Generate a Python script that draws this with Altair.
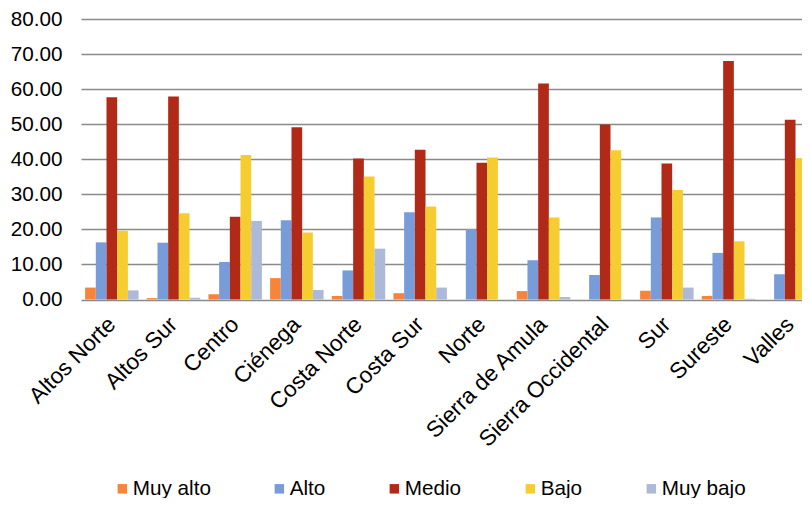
import altair as alt
import pandas as pd

regions = ["Altos Norte", "Altos Sur", "Centro", "Ciénega", "Costa Norte", "Costa Sur",
           "Norte", "Sierra de Amula", "Sierra Occidental", "Sur", "Sureste", "Valles"]
series = ["Muy alto", "Alto", "Medio", "Bajo", "Muy bajo"]
colors = ["#F8843A", "#789CD9", "#B12A17", "#F6CD30", "#ADB9D9"]

muy_alto = [3.4, 0.4, 1.5, 6.1, 1.0, 1.8, 0.0, 2.4, 0.0, 2.5, 1.0, 0.0]
alto     = [16.3, 16.2, 10.7, 22.6, 8.3, 24.9, 20.1, 11.2, 7.0, 23.4, 13.3, 7.2]
medio    = [57.7, 57.9, 23.6, 49.1, 40.2, 42.7, 39.0, 61.6, 49.9, 38.8, 68.0, 51.3]
bajo     = [19.6, 24.6, 41.2, 19.1, 35.1, 26.5, 40.5, 23.4, 42.6, 31.2, 16.6, 40.3]
muy_bajo = [2.6, 0.5, 22.4, 2.7, 14.5, 3.4, 0.0, 0.7, 0.0, 3.4, 0.2, 0.5]

values = [muy_alto, alto, medio, bajo, muy_bajo]
rows = []
for s, vals in zip(series, values):
    for r, v in zip(regions, vals):
        rows.append({"Region": r, "Nivel": s, "Valor": v})
df = pd.DataFrame(rows)

FONT = "Liberation Sans"

chart = alt.Chart(df).mark_bar().encode(
    x=alt.X("Region:N", sort=regions, title=None,
            scale=alt.Scale(range=[0, 740], paddingInner=0.133, paddingOuter=0.0665),
            axis=alt.Axis(labelAngle=-45, labelAlign="right", labelBaseline="middle",
                          labelPadding=21, ticks=False, domain=False, grid=False,
                          labelFont=FONT, labelFontSize=22.5, labelColor="#000000")),
    xOffset=alt.XOffset("Nivel:N", sort=series, scale=alt.Scale(paddingInner=0, paddingOuter=0)),
    y=alt.Y("Valor:Q", title=None,
            scale=alt.Scale(domain=[0, 80], nice=False),
            axis=alt.Axis(values=[0, 10, 20, 30, 40, 50, 60, 70, 80], format=".2f",
                          ticks=False, domain=False, grid=True, gridColor="#8a8a8a",
                          gridWidth=1.4, labelPadding=19, labelFont=FONT,
                          labelFontSize=20.7, labelColor="#000000")),
    color=alt.Color("Nivel:N", sort=series, scale=alt.Scale(domain=series, range=colors),
                    legend=alt.Legend(title=None, orient="none", direction="horizontal",
                                      legendX=31, legendY=459, symbolType="square",
                                      symbolSize=90, symbolStrokeWidth=0, labelFont=FONT,
                                      labelFontSize=20.7, labelColor="#000000",
                                      labelOffset=0, columnPadding=58)),
).properties(
    width=721, height=280.5,
    autosize=alt.AutoSizeParams(type="none"),
    padding={"left": 73, "top": 11, "right": 0, "bottom": 198.5},
).configure_view(stroke=None)

chart.save("out.html", embed_options={"renderer": "svg", "actions": False})
